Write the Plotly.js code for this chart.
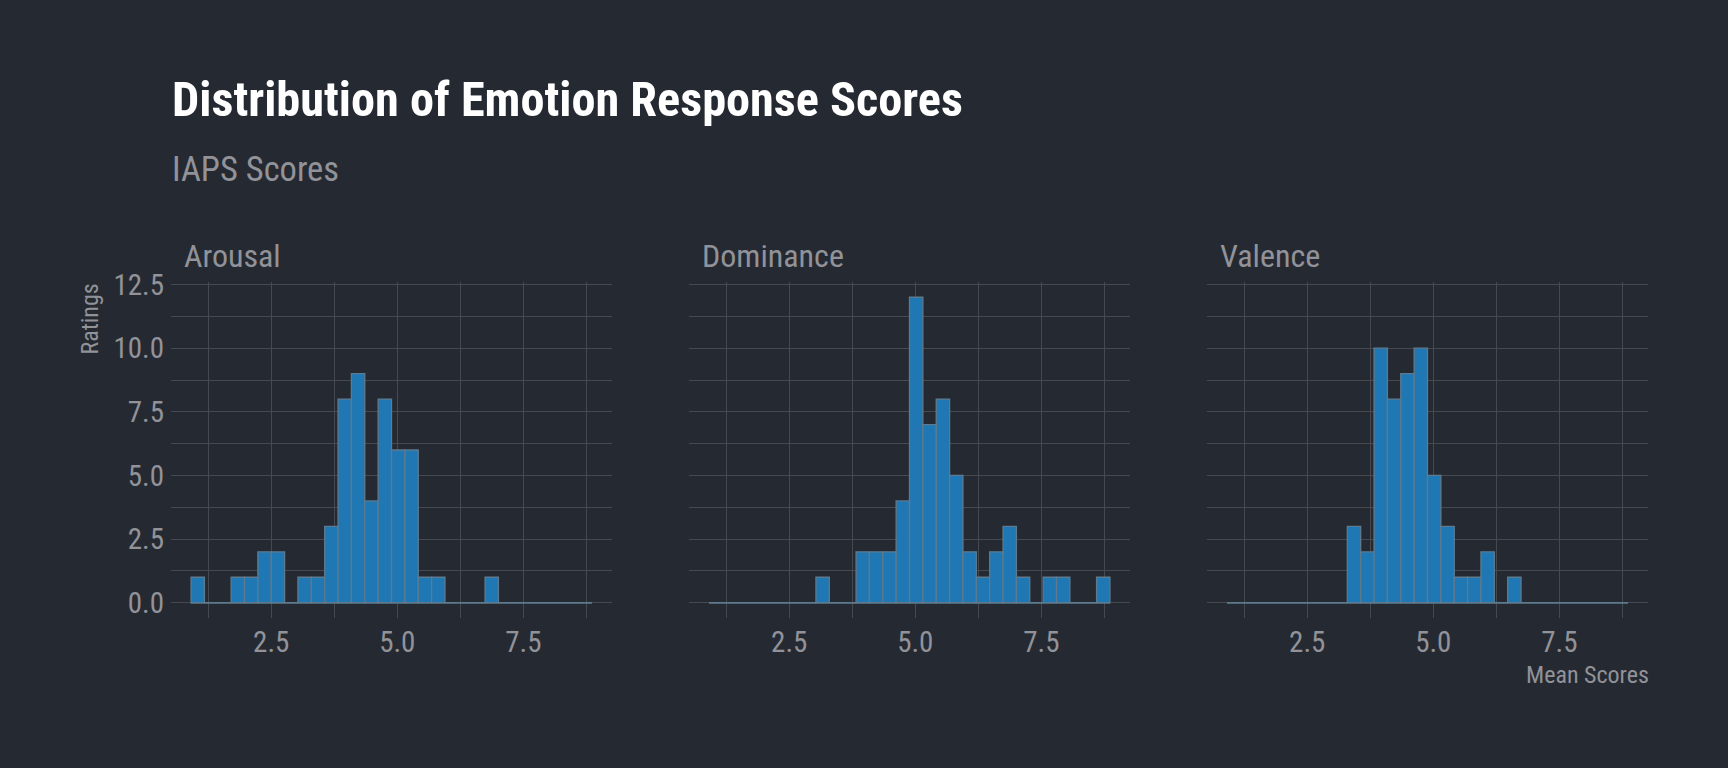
<!DOCTYPE html>
<html>
<head>
<meta charset="utf-8">
<script src="https://cdn.plot.ly/plotly-3.0.1.min.js"></script>
<style>
  html, body { margin: 0; padding: 0; background: #252a32; }
  #chart { width: 1728px; height: 768px; }
</style>
</head>
<body>
<div id="chart"></div>
<script>
// ---- data (histogram counts, 30 shared bins) ----
const panelNames = ["Arousal", "Dominance", "Valence"];
const binStart = 0.91;
const binWidth = 0.265;
const arousalCounts   = [1,0,0,1,1,2,2,0,1,1,3,8,9,4,8,6,6,1,1,0,0,0,1,0,0,0,0,0,0,0];
const dominanceCounts = [0,0,0,0,0,0,0,0,1,0,0,2,2,2,4,12,7,8,5,2,1,2,3,1,0,1,1,0,0,1];
const valenceCounts   = [0,0,0,0,0,0,0,0,0,3,2,10,8,9,10,5,3,1,1,2,0,1,0,0,0,0,0,0,0,0];
const xTickVals = [2.5, 5.0, 7.5];
const xTickText = ["2.5", "5.0", "7.5"];
const yTickVals = [0, 2.5, 5, 7.5, 10, 12.5];
const yTickText = ["0.0", "2.5", "5.0", "7.5", "10.0", "12.5"];

const allCounts = [arousalCounts, dominanceCounts, valenceCounts];

// ---- styles ----
const FONT = "'Roboto Condensed', 'Liberation Sans Narrow', 'DejaVu Sans Condensed', Roboto, sans-serif";
const BG = "#252a32";
const GRID = "#464950";
const TEXT = "#929299";
const FILL = "#1f77b4";
const EDGE = "#5e7a8e";

const W = 1728, H = 768;
const panelsPx = [[171, 612], [689, 1130], [1207, 1648]];
const yTopPx = 282, yBotPx = 618;

const nBins = arousalCounts.length;
const binCenters = arousalCounts.map((_, i) => binStart + (i + 0.5) * binWidth);
const binEnd = binStart + nBins * binWidth;
const ext = binEnd - binStart;
const xRange = [binStart - 0.05 * ext, binEnd + 0.05 * ext];
const yMax = Math.max(...allCounts.flat());
const yRange = [-0.05 * yMax, yMax * 1.05];

const traces = [];
const layout = {
  width: W, height: H,
  paper_bgcolor: BG, plot_bgcolor: BG,
  margin: {l: 0, r: 0, t: 0, b: 0},
  showlegend: false,
  bargap: 0,
  font: {family: FONT, color: TEXT},
  annotations: [],
};

allCounts.forEach((counts, k) => {
  const xa = k === 0 ? "x" : "x" + (k + 1);
  const ya = k === 0 ? "y" : "y" + (k + 1);
  traces.push({
    type: "bar", x: binCenters, y: counts, width: binWidth,
    xaxis: xa, yaxis: ya,
    marker: {color: FILL, line: {color: EDGE, width: 1.3}},
    hoverinfo: "x+y",
  });
  traces.push({
    type: "scatter", mode: "lines",
    x: [binStart, binEnd], y: [0, 0],
    xaxis: xa, yaxis: ya,
    line: {color: EDGE, width: 1.5},
    hoverinfo: "skip",
  });
  const xk = k === 0 ? "xaxis" : "xaxis" + (k + 1);
  const yk = k === 0 ? "yaxis" : "yaxis" + (k + 1);
  const [pl, pr] = panelsPx[k];
  layout[xk] = {
    domain: [pl / W, pr / W],
    anchor: ya,
    range: xRange,
    tickvals: xTickVals, ticktext: xTickText,
    showgrid: true, gridcolor: GRID, gridwidth: 1,
    minor: {tickvals: [1.25, 3.75, 6.25, 8.75], showgrid: true, gridcolor: GRID, gridwidth: 1, ticks: ""},
    zeroline: false, showline: false, ticks: "",
    tickfont: {family: FONT, size: 29, color: TEXT},
    ticklabelstandoff: 4,
  };
  layout[yk] = {
    domain: [1 - yBotPx / H, 1 - yTopPx / H],
    anchor: xa,
    range: yRange,
    tickvals: yTickVals, ticktext: yTickText,
    showgrid: true, gridcolor: GRID, gridwidth: 1,
    minor: {tickvals: [1.25, 3.75, 6.25, 8.75, 11.25], showgrid: true, gridcolor: GRID, gridwidth: 1, ticks: ""},
    zeroline: false, showline: false, ticks: "",
    showticklabels: k === 0,
    tickfont: {family: FONT, size: 29, color: TEXT},
    ticklabelstandoff: 6,
  };
  layout.annotations.push({
    text: panelNames[k], xref: "paper", yref: "paper",
    x: (pl + 10.5) / W, y: 1 - 256 / H, xanchor: "left", yanchor: "middle",
    showarrow: false, font: {family: FONT, size: 32, color: TEXT},
  });
});

layout.annotations.push({
  text: "<b>Distribution of Emotion Response Scores</b>", xref: "paper", yref: "paper",
  x: 170 / W, y: 1 - 99 / H, xanchor: "left", yanchor: "middle",
  showarrow: false, font: {family: FONT, size: 48.3, color: "#ffffff"},
});
layout.annotations.push({
  text: "IAPS Scores", xref: "paper", yref: "paper",
  x: 170 / W, y: 1 - 169 / H, xanchor: "left", yanchor: "middle",
  showarrow: false, font: {family: FONT, size: 34.5, color: TEXT},
});
layout.annotations.push({
  text: "Ratings", xref: "paper", yref: "paper",
  x: 89 / W, y: 1 - yTopPx / H, xanchor: "center", yanchor: "top",
  textangle: -90,
  showarrow: false, font: {family: FONT, size: 24, color: TEXT},
});
layout.annotations.push({
  text: "Mean Scores", xref: "paper", yref: "paper",
  x: 1651 / W, y: 1 - 675 / H, xanchor: "right", yanchor: "middle",
  showarrow: false, font: {family: FONT, size: 24, color: TEXT},
});

Plotly.newPlot("chart", traces, layout, {displayModeBar: false, staticPlot: true});
</script>
</body>
</html>
